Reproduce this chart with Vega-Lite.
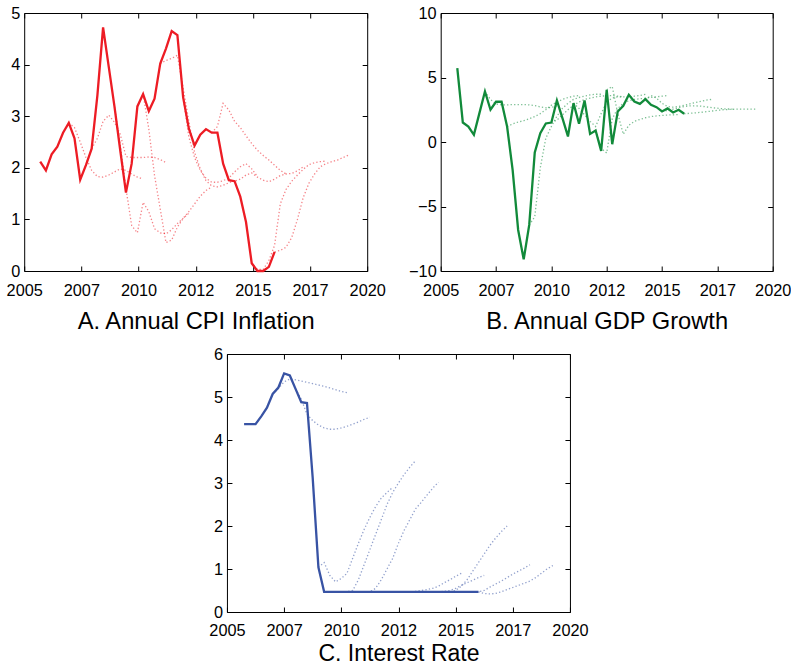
{
"$schema": "https://vega.github.io/schema/vega-lite/v6.json",
"padding": {"left": 6, "top": 5, "right": 0, "bottom": 0},
"background": "white",
"config": {
  "font": "Liberation Sans",
  "view": {"stroke": null},
  "axis": {"domainColor": "#000", "domainWidth": 1, "tickColor": "#000", "tickWidth": 1, "tickSize": -5, "labelColor": "#000", "labelFontSize": 16.3, "labelFont": "Liberation Sans", "titleFont": "Liberation Sans", "titleFontSize": 23.7, "titleFontWeight": "normal", "titleColor": "#000", "grid": false, "labelFlush": false}
},
"datasets": {
"A": [
{"s":"o","x":2005.7,"y":2.12},{"s":"o","x":2005.95,"y":1.95},{"s":"o","x":2006.2,"y":2.26},{"s":"o","x":2006.45,"y":2.41},{"s":"o","x":2006.7,"y":2.68},{"s":"o","x":2006.95,"y":2.87},{"s":"o","x":2007.2,"y":2.57},{"s":"o","x":2007.45,"y":1.77},{"s":"o","x":2007.7,"y":2.05},{"s":"o","x":2007.95,"y":2.37},{"s":"o","x":2008.2,"y":3.4},{"s":"o","x":2008.45,"y":4.72},{"s":"o","x":2008.7,"y":3.95},{"s":"o","x":2008.95,"y":3.18},{"s":"o","x":2009.2,"y":2.34},{"s":"o","x":2009.45,"y":1.52},{"s":"o","x":2009.7,"y":2.08},{"s":"o","x":2009.95,"y":3.19},{"s":"o","x":2010.2,"y":3.43},{"s":"o","x":2010.45,"y":3.1},{"s":"o","x":2010.7,"y":3.34},{"s":"o","x":2010.95,"y":4.02},{"s":"o","x":2011.2,"y":4.31},{"s":"o","x":2011.45,"y":4.65},{"s":"o","x":2011.7,"y":4.57},{"s":"o","x":2011.95,"y":3.37},{"s":"o","x":2012.2,"y":2.76},{"s":"o","x":2012.45,"y":2.43},{"s":"o","x":2012.7,"y":2.64},{"s":"o","x":2012.95,"y":2.75},{"s":"o","x":2013.2,"y":2.68},{"s":"o","x":2013.45,"y":2.68},{"s":"o","x":2013.7,"y":2.08},{"s":"o","x":2013.95,"y":1.76},{"s":"o","x":2014.2,"y":1.74},{"s":"o","x":2014.45,"y":1.44},{"s":"o","x":2014.7,"y":0.95},{"s":"o","x":2014.95,"y":0.15},{"s":"o","x":2015.2,"y":0.0},{"s":"o","x":2015.45,"y":0.0},{"s":"o","x":2015.7,"y":0.08},{"s":"o","x":2015.95,"y":0.37},
{"s":"f1","x":2006.95,"y":2.87},{"s":"f1","x":2007.2,"y":2.78},{"s":"f1","x":2007.45,"y":2.5},{"s":"f1","x":2007.7,"y":2.2},{"s":"f1","x":2007.95,"y":1.95},{"s":"f1","x":2008.2,"y":1.83},{"s":"f1","x":2008.45,"y":1.82},{"s":"f1","x":2008.7,"y":1.86},{"s":"f1","x":2008.95,"y":1.92},{"s":"f1","x":2009.2,"y":1.98},{"s":"f1","x":2009.45,"y":1.95},{"s":"f1","x":2009.7,"y":1.88},{"s":"f1","x":2009.95,"y":1.82},{"s":"f1","x":2010.2,"y":1.78},
{"s":"f2","x":2007.95,"y":2.37},{"s":"f2","x":2008.2,"y":2.57},{"s":"f2","x":2008.45,"y":2.9},{"s":"f2","x":2008.7,"y":3.02},{"s":"f2","x":2008.95,"y":2.88},{"s":"f2","x":2009.2,"y":2.65},{"s":"f2","x":2009.45,"y":2.22},{"s":"f2","x":2009.7,"y":2.2},{"s":"f2","x":2009.95,"y":2.2},{"s":"f2","x":2010.2,"y":2.2},{"s":"f2","x":2010.45,"y":2.21},{"s":"f2","x":2010.7,"y":2.2},{"s":"f2","x":2010.95,"y":2.16},{"s":"f2","x":2011.2,"y":2.1},
{"s":"f3","x":2008.95,"y":3.18},{"s":"f3","x":2009.2,"y":2.45},{"s":"f3","x":2009.45,"y":1.6},{"s":"f3","x":2009.7,"y":0.88},{"s":"f3","x":2009.95,"y":0.74},{"s":"f3","x":2010.2,"y":1.33},{"s":"f3","x":2010.45,"y":1.15},{"s":"f3","x":2010.7,"y":0.82},{"s":"f3","x":2010.95,"y":0.74},{"s":"f3","x":2011.2,"y":0.72},{"s":"f3","x":2011.45,"y":0.8},{"s":"f3","x":2011.7,"y":0.92},{"s":"f3","x":2011.95,"y":1.02},{"s":"f3","x":2012.2,"y":1.12},
{"s":"f4","x":2009.95,"y":3.19},{"s":"f4","x":2010.2,"y":3.43},{"s":"f4","x":2010.45,"y":2.75},{"s":"f4","x":2010.7,"y":1.85},{"s":"f4","x":2010.95,"y":1.2},{"s":"f4","x":2011.2,"y":0.55},{"s":"f4","x":2011.45,"y":0.6},{"s":"f4","x":2011.7,"y":0.85},{"s":"f4","x":2011.95,"y":1.02},{"s":"f4","x":2012.2,"y":1.15},{"s":"f4","x":2012.45,"y":1.3},{"s":"f4","x":2012.7,"y":1.45},{"s":"f4","x":2012.95,"y":1.56},{"s":"f4","x":2013.2,"y":1.63},
{"s":"f5","x":2010.95,"y":4.02},{"s":"f5","x":2011.2,"y":4.08},{"s":"f5","x":2011.45,"y":4.12},{"s":"f5","x":2011.7,"y":4.18},{"s":"f5","x":2011.95,"y":3.55},{"s":"f5","x":2012.2,"y":2.9},{"s":"f5","x":2012.45,"y":2.3},{"s":"f5","x":2012.7,"y":1.98},{"s":"f5","x":2012.95,"y":1.75},{"s":"f5","x":2013.2,"y":1.65},{"s":"f5","x":2013.45,"y":1.63},{"s":"f5","x":2013.7,"y":1.66},{"s":"f5","x":2013.95,"y":1.71},{"s":"f5","x":2014.2,"y":1.75},
{"s":"f6","x":2011.95,"y":3.37},{"s":"f6","x":2012.2,"y":2.6},{"s":"f6","x":2012.45,"y":2.2},{"s":"f6","x":2012.7,"y":1.95},{"s":"f6","x":2012.95,"y":1.8},{"s":"f6","x":2013.2,"y":1.72},{"s":"f6","x":2013.45,"y":1.72},{"s":"f6","x":2013.7,"y":1.75},{"s":"f6","x":2013.95,"y":1.8},{"s":"f6","x":2014.2,"y":1.92},{"s":"f6","x":2014.45,"y":2.02},{"s":"f6","x":2014.7,"y":2.08},{"s":"f6","x":2014.95,"y":1.98},{"s":"f6","x":2015.2,"y":1.83},
{"s":"f7","x":2013.2,"y":2.68},{"s":"f7","x":2013.45,"y":2.8},{"s":"f7","x":2013.7,"y":3.25},{"s":"f7","x":2013.95,"y":3.12},{"s":"f7","x":2014.2,"y":2.9},{"s":"f7","x":2014.45,"y":2.78},{"s":"f7","x":2014.7,"y":2.62},{"s":"f7","x":2014.95,"y":2.47},{"s":"f7","x":2015.2,"y":2.34},{"s":"f7","x":2015.45,"y":2.24},{"s":"f7","x":2015.7,"y":2.15},{"s":"f7","x":2015.95,"y":2.05},{"s":"f7","x":2016.2,"y":1.95},{"s":"f7","x":2016.45,"y":1.88},
{"s":"f8","x":2013.95,"y":1.76},{"s":"f8","x":2014.2,"y":1.74},{"s":"f8","x":2014.45,"y":1.78},{"s":"f8","x":2014.7,"y":1.86},{"s":"f8","x":2014.95,"y":1.9},{"s":"f8","x":2015.2,"y":1.82},{"s":"f8","x":2015.45,"y":1.76},{"s":"f8","x":2015.7,"y":1.73},{"s":"f8","x":2015.95,"y":1.78},{"s":"f8","x":2016.2,"y":1.85},{"s":"f8","x":2016.45,"y":1.88},{"s":"f8","x":2016.7,"y":1.89},{"s":"f8","x":2016.95,"y":1.94},{"s":"f8","x":2017.2,"y":2.02},
{"s":"f9","x":2014.95,"y":0.15},{"s":"f9","x":2015.2,"y":0.03},{"s":"f9","x":2015.45,"y":0.03},{"s":"f9","x":2015.7,"y":0.2},{"s":"f9","x":2015.95,"y":0.5},{"s":"f9","x":2016.2,"y":1.3},{"s":"f9","x":2016.45,"y":1.58},{"s":"f9","x":2016.7,"y":1.74},{"s":"f9","x":2016.95,"y":1.86},{"s":"f9","x":2017.2,"y":1.97},{"s":"f9","x":2017.45,"y":2.06},{"s":"f9","x":2017.7,"y":2.1},{"s":"f9","x":2017.95,"y":2.12},{"s":"f9","x":2018.2,"y":2.13},
{"s":"f10","x":2015.95,"y":0.37},{"s":"f10","x":2016.2,"y":0.4},{"s":"f10","x":2016.45,"y":0.46},{"s":"f10","x":2016.7,"y":0.65},{"s":"f10","x":2016.95,"y":1.0},{"s":"f10","x":2017.2,"y":1.42},{"s":"f10","x":2017.45,"y":1.7},{"s":"f10","x":2017.7,"y":1.88},{"s":"f10","x":2017.95,"y":2.02},{"s":"f10","x":2018.2,"y":2.08},{"s":"f10","x":2018.45,"y":2.12},{"s":"f10","x":2018.7,"y":2.15},{"s":"f10","x":2018.95,"y":2.2},{"s":"f10","x":2019.2,"y":2.25}
],
"B": [
{"s":"o","x":2005.75,"y":5.73},{"s":"o","x":2006.0,"y":1.51},{"s":"o","x":2006.25,"y":1.2},{"s":"o","x":2006.5,"y":0.56},{"s":"o","x":2006.75,"y":2.24},{"s":"o","x":2007.0,"y":3.92},{"s":"o","x":2007.25,"y":2.5},{"s":"o","x":2007.5,"y":3.12},{"s":"o","x":2007.75,"y":3.12},{"s":"o","x":2008.0,"y":1.2},{"s":"o","x":2008.25,"y":-2.16},{"s":"o","x":2008.5,"y":-6.82},{"s":"o","x":2008.75,"y":-9.1},{"s":"o","x":2009.0,"y":-6.43},{"s":"o","x":2009.25,"y":-0.81},{"s":"o","x":2009.5,"y":0.69},{"s":"o","x":2009.75,"y":1.44},{"s":"o","x":2010.0,"y":1.51},{"s":"o","x":2010.25,"y":3.22},{"s":"o","x":2010.5,"y":1.85},{"s":"o","x":2010.75,"y":0.43},{"s":"o","x":2011.0,"y":3.01},{"s":"o","x":2011.25,"y":1.41},{"s":"o","x":2011.5,"y":3.22},{"s":"o","x":2011.75,"y":0.63},{"s":"o","x":2012.0,"y":0.89},{"s":"o","x":2012.25,"y":-0.69},{"s":"o","x":2012.5,"y":4.05},{"s":"o","x":2012.75,"y":-0.17},{"s":"o","x":2013.0,"y":2.37},{"s":"o","x":2013.25,"y":2.81},{"s":"o","x":2013.5,"y":3.66},{"s":"o","x":2013.75,"y":3.14},{"s":"o","x":2014.0,"y":2.96},{"s":"o","x":2014.25,"y":3.32},{"s":"o","x":2014.5,"y":2.88},{"s":"o","x":2014.75,"y":2.7},{"s":"o","x":2015.0,"y":2.37},{"s":"o","x":2015.25,"y":2.6},{"s":"o","x":2015.5,"y":2.29},{"s":"o","x":2015.75,"y":2.5},{"s":"o","x":2016.0,"y":2.19},
{"s":"f1","x":2007.0,"y":3.92},{"s":"f1","x":2007.25,"y":3.3},{"s":"f1","x":2007.5,"y":2.95},{"s":"f1","x":2007.75,"y":2.88},{"s":"f1","x":2008.0,"y":2.88},{"s":"f1","x":2008.25,"y":2.9},{"s":"f1","x":2008.5,"y":2.9},{"s":"f1","x":2008.75,"y":2.9},{"s":"f1","x":2009.0,"y":2.88},{"s":"f1","x":2009.25,"y":2.82},{"s":"f1","x":2009.5,"y":2.72},{"s":"f1","x":2009.75,"y":2.65},{"s":"f1","x":2010.0,"y":2.68},{"s":"f1","x":2010.25,"y":2.8},
{"s":"f2","x":2008.0,"y":1.2},{"s":"f2","x":2008.25,"y":1.4},{"s":"f2","x":2008.5,"y":1.55},{"s":"f2","x":2008.75,"y":1.65},{"s":"f2","x":2009.0,"y":1.8},{"s":"f2","x":2009.25,"y":1.98},{"s":"f2","x":2009.5,"y":2.2},{"s":"f2","x":2009.75,"y":2.5},{"s":"f2","x":2010.0,"y":2.85},{"s":"f2","x":2010.25,"y":3.1},{"s":"f2","x":2010.5,"y":3.3},{"s":"f2","x":2010.75,"y":3.45},{"s":"f2","x":2011.0,"y":3.55},{"s":"f2","x":2011.25,"y":3.6},
{"s":"f3","x":2009.0,"y":-6.43},{"s":"f3","x":2009.25,"y":-5.8},{"s":"f3","x":2009.5,"y":-2.0},{"s":"f3","x":2009.75,"y":0.3},{"s":"f3","x":2010.0,"y":1.2},{"s":"f3","x":2010.25,"y":2.0},{"s":"f3","x":2010.5,"y":2.6},{"s":"f3","x":2010.75,"y":3.0},{"s":"f3","x":2011.0,"y":3.3},{"s":"f3","x":2011.25,"y":3.45},{"s":"f3","x":2011.5,"y":3.55},{"s":"f3","x":2011.75,"y":3.65},{"s":"f3","x":2012.0,"y":3.7},{"s":"f3","x":2012.25,"y":3.7},
{"s":"f4","x":2010.0,"y":1.51},{"s":"f4","x":2010.25,"y":1.7},{"s":"f4","x":2010.5,"y":2.1},{"s":"f4","x":2010.75,"y":2.5},{"s":"f4","x":2011.0,"y":2.85},{"s":"f4","x":2011.25,"y":3.1},{"s":"f4","x":2011.5,"y":3.3},{"s":"f4","x":2011.75,"y":3.4},{"s":"f4","x":2012.0,"y":3.5},{"s":"f4","x":2012.25,"y":3.55},{"s":"f4","x":2012.5,"y":3.6},{"s":"f4","x":2012.75,"y":3.6},{"s":"f4","x":2013.0,"y":3.55},{"s":"f4","x":2013.25,"y":3.5},
{"s":"f5","x":2011.0,"y":3.01},{"s":"f5","x":2011.25,"y":2.6},{"s":"f5","x":2011.5,"y":2.1},{"s":"f5","x":2011.75,"y":1.6},{"s":"f5","x":2012.0,"y":1.2},{"s":"f5","x":2012.25,"y":2.2},{"s":"f5","x":2012.5,"y":3.1},{"s":"f5","x":2012.75,"y":3.4},{"s":"f5","x":2013.0,"y":3.5},{"s":"f5","x":2013.25,"y":3.5},{"s":"f5","x":2013.5,"y":3.5},{"s":"f5","x":2013.75,"y":3.55},{"s":"f5","x":2014.0,"y":3.6},{"s":"f5","x":2014.25,"y":3.7},
{"s":"f6","x":2012.0,"y":0.89},{"s":"f6","x":2012.25,"y":-0.5},{"s":"f6","x":2012.5,"y":-0.85},{"s":"f6","x":2012.75,"y":1.8},{"s":"f6","x":2013.0,"y":2.6},{"s":"f6","x":2013.25,"y":3.0},{"s":"f6","x":2013.5,"y":3.2},{"s":"f6","x":2013.75,"y":3.3},{"s":"f6","x":2014.0,"y":3.35},{"s":"f6","x":2014.25,"y":3.4},{"s":"f6","x":2014.5,"y":3.45},{"s":"f6","x":2014.75,"y":3.5},{"s":"f6","x":2015.0,"y":3.55},{"s":"f6","x":2015.25,"y":3.6},
{"s":"f7","x":2012.5,"y":4.05},{"s":"f7","x":2012.75,"y":4.3},{"s":"f7","x":2013.0,"y":2.2},{"s":"f7","x":2013.25,"y":0.6},{"s":"f7","x":2013.5,"y":1.3},{"s":"f7","x":2013.75,"y":1.6},{"s":"f7","x":2014.0,"y":1.75},{"s":"f7","x":2014.25,"y":1.88},{"s":"f7","x":2014.5,"y":1.97},{"s":"f7","x":2014.75,"y":2.02},{"s":"f7","x":2015.0,"y":2.06},{"s":"f7","x":2015.25,"y":2.09},{"s":"f7","x":2015.5,"y":2.11},{"s":"f7","x":2015.75,"y":2.13},
{"s":"f8","x":2014.0,"y":2.96},{"s":"f8","x":2014.25,"y":3.3},{"s":"f8","x":2014.5,"y":3.6},{"s":"f8","x":2014.75,"y":3.4},{"s":"f8","x":2015.0,"y":3.0},{"s":"f8","x":2015.25,"y":2.75},{"s":"f8","x":2015.5,"y":2.7},{"s":"f8","x":2015.75,"y":2.75},{"s":"f8","x":2016.0,"y":2.85},{"s":"f8","x":2016.25,"y":2.95},{"s":"f8","x":2016.5,"y":3.05},{"s":"f8","x":2016.75,"y":3.15},{"s":"f8","x":2017.0,"y":3.25},{"s":"f8","x":2017.25,"y":3.3},
{"s":"f9","x":2015.0,"y":2.37},{"s":"f9","x":2015.25,"y":2.45},{"s":"f9","x":2015.5,"y":2.55},{"s":"f9","x":2015.75,"y":2.65},{"s":"f9","x":2016.0,"y":2.75},{"s":"f9","x":2016.25,"y":2.8},{"s":"f9","x":2016.5,"y":2.8},{"s":"f9","x":2016.75,"y":2.78},{"s":"f9","x":2017.0,"y":2.72},{"s":"f9","x":2017.25,"y":2.66},{"s":"f9","x":2017.5,"y":2.62},{"s":"f9","x":2017.75,"y":2.58},{"s":"f9","x":2018.0,"y":2.56},{"s":"f9","x":2018.25,"y":2.55},
{"s":"f10","x":2016.0,"y":2.19},{"s":"f10","x":2016.25,"y":2.22},{"s":"f10","x":2016.5,"y":2.26},{"s":"f10","x":2016.75,"y":2.3},{"s":"f10","x":2017.0,"y":2.35},{"s":"f10","x":2017.25,"y":2.4},{"s":"f10","x":2017.5,"y":2.45},{"s":"f10","x":2017.75,"y":2.5},{"s":"f10","x":2018.0,"y":2.52},{"s":"f10","x":2018.25,"y":2.54},{"s":"f10","x":2018.5,"y":2.55},{"s":"f10","x":2018.75,"y":2.55},{"s":"f10","x":2019.0,"y":2.55},{"s":"f10","x":2019.25,"y":2.55}
],
"C": [
{"s":"o","x":2005.75,"y":4.37},{"s":"o","x":2006.0,"y":4.37},{"s":"o","x":2006.25,"y":4.37},{"s":"o","x":2006.5,"y":4.55},{"s":"o","x":2006.75,"y":4.75},{"s":"o","x":2007.0,"y":5.07},{"s":"o","x":2007.25,"y":5.22},{"s":"o","x":2007.5,"y":5.55},{"s":"o","x":2007.75,"y":5.5},{"s":"o","x":2008.0,"y":5.19},{"s":"o","x":2008.25,"y":4.88},{"s":"o","x":2008.5,"y":4.86},{"s":"o","x":2008.75,"y":3.12},{"s":"o","x":2009.0,"y":1.04},{"s":"o","x":2009.25,"y":0.47},{"s":"o","x":2009.5,"y":0.47},{"s":"o","x":2009.75,"y":0.47},{"s":"o","x":2010.0,"y":0.47},{"s":"o","x":2010.25,"y":0.47},{"s":"o","x":2010.5,"y":0.47},{"s":"o","x":2010.75,"y":0.47},{"s":"o","x":2011.0,"y":0.47},{"s":"o","x":2011.25,"y":0.47},{"s":"o","x":2011.5,"y":0.47},{"s":"o","x":2011.75,"y":0.47},{"s":"o","x":2012.0,"y":0.47},{"s":"o","x":2012.25,"y":0.47},{"s":"o","x":2012.5,"y":0.47},{"s":"o","x":2012.75,"y":0.47},{"s":"o","x":2013.0,"y":0.47},{"s":"o","x":2013.25,"y":0.47},{"s":"o","x":2013.5,"y":0.47},{"s":"o","x":2013.75,"y":0.47},{"s":"o","x":2014.0,"y":0.47},{"s":"o","x":2014.25,"y":0.47},{"s":"o","x":2014.5,"y":0.47},{"s":"o","x":2014.75,"y":0.47},{"s":"o","x":2015.0,"y":0.47},{"s":"o","x":2015.25,"y":0.47},{"s":"o","x":2015.5,"y":0.47},{"s":"o","x":2015.75,"y":0.47},{"s":"o","x":2016.0,"y":0.47},
{"s":"f1","x":2007.0,"y":5.07},{"s":"f1","x":2007.25,"y":5.2},{"s":"f1","x":2007.5,"y":5.35},{"s":"f1","x":2007.75,"y":5.42},{"s":"f1","x":2008.0,"y":5.4},{"s":"f1","x":2008.25,"y":5.37},{"s":"f1","x":2008.5,"y":5.34},{"s":"f1","x":2008.75,"y":5.31},{"s":"f1","x":2009.0,"y":5.28},{"s":"f1","x":2009.25,"y":5.25},{"s":"f1","x":2009.5,"y":5.21},{"s":"f1","x":2009.75,"y":5.17},{"s":"f1","x":2010.0,"y":5.13},{"s":"f1","x":2010.25,"y":5.1},
{"s":"f2","x":2008.0,"y":5.19},{"s":"f2","x":2008.25,"y":4.95},{"s":"f2","x":2008.5,"y":4.6},{"s":"f2","x":2008.75,"y":4.45},{"s":"f2","x":2009.0,"y":4.35},{"s":"f2","x":2009.25,"y":4.28},{"s":"f2","x":2009.5,"y":4.25},{"s":"f2","x":2009.75,"y":4.25},{"s":"f2","x":2010.0,"y":4.28},{"s":"f2","x":2010.25,"y":4.32},{"s":"f2","x":2010.5,"y":4.37},{"s":"f2","x":2010.75,"y":4.42},{"s":"f2","x":2011.0,"y":4.48},{"s":"f2","x":2011.25,"y":4.53},
{"s":"f3","x":2009.0,"y":1.04},{"s":"f3","x":2009.25,"y":1.15},{"s":"f3","x":2009.5,"y":0.85},{"s":"f3","x":2009.75,"y":0.7},{"s":"f3","x":2010.0,"y":0.78},{"s":"f3","x":2010.25,"y":0.9},{"s":"f3","x":2010.5,"y":1.25},{"s":"f3","x":2010.75,"y":1.6},{"s":"f3","x":2011.0,"y":1.92},{"s":"f3","x":2011.25,"y":2.2},{"s":"f3","x":2011.5,"y":2.45},{"s":"f3","x":2011.75,"y":2.65},{"s":"f3","x":2012.0,"y":2.78},{"s":"f3","x":2012.25,"y":2.9},
{"s":"f4","x":2010.0,"y":0.47},{"s":"f4","x":2010.25,"y":0.47},{"s":"f4","x":2010.5,"y":0.5},{"s":"f4","x":2010.75,"y":0.75},{"s":"f4","x":2011.0,"y":1.1},{"s":"f4","x":2011.25,"y":1.45},{"s":"f4","x":2011.5,"y":1.8},{"s":"f4","x":2011.75,"y":2.15},{"s":"f4","x":2012.0,"y":2.5},{"s":"f4","x":2012.25,"y":2.78},{"s":"f4","x":2012.5,"y":3.0},{"s":"f4","x":2012.75,"y":3.2},{"s":"f4","x":2013.0,"y":3.37},{"s":"f4","x":2013.25,"y":3.52},
{"s":"f5","x":2011.0,"y":0.47},{"s":"f5","x":2011.25,"y":0.47},{"s":"f5","x":2011.5,"y":0.55},{"s":"f5","x":2011.75,"y":0.75},{"s":"f5","x":2012.0,"y":1.0},{"s":"f5","x":2012.25,"y":1.25},{"s":"f5","x":2012.5,"y":1.6},{"s":"f5","x":2012.75,"y":1.9},{"s":"f5","x":2013.0,"y":2.15},{"s":"f5","x":2013.25,"y":2.4},{"s":"f5","x":2013.5,"y":2.55},{"s":"f5","x":2013.75,"y":2.72},{"s":"f5","x":2014.0,"y":2.88},{"s":"f5","x":2014.25,"y":3.02},
{"s":"f6","x":2012.0,"y":0.47},{"s":"f6","x":2012.25,"y":0.47},{"s":"f6","x":2012.5,"y":0.47},{"s":"f6","x":2012.75,"y":0.47},{"s":"f6","x":2013.0,"y":0.47},{"s":"f6","x":2013.25,"y":0.48},{"s":"f6","x":2013.5,"y":0.5},{"s":"f6","x":2013.75,"y":0.52},{"s":"f6","x":2014.0,"y":0.55},{"s":"f6","x":2014.25,"y":0.6},{"s":"f6","x":2014.5,"y":0.68},{"s":"f6","x":2014.75,"y":0.75},{"s":"f6","x":2015.0,"y":0.83},{"s":"f6","x":2015.25,"y":0.9},
{"s":"f7","x":2013.0,"y":0.47},{"s":"f7","x":2013.25,"y":0.47},{"s":"f7","x":2013.5,"y":0.47},{"s":"f7","x":2013.75,"y":0.47},{"s":"f7","x":2014.0,"y":0.47},{"s":"f7","x":2014.25,"y":0.47},{"s":"f7","x":2014.5,"y":0.48},{"s":"f7","x":2014.75,"y":0.5},{"s":"f7","x":2015.0,"y":0.55},{"s":"f7","x":2015.25,"y":0.62},{"s":"f7","x":2015.5,"y":0.68},{"s":"f7","x":2015.75,"y":0.74},{"s":"f7","x":2016.0,"y":0.8},{"s":"f7","x":2016.25,"y":0.85},
{"s":"f8","x":2014.0,"y":0.47},{"s":"f8","x":2014.25,"y":0.47},{"s":"f8","x":2014.5,"y":0.47},{"s":"f8","x":2014.75,"y":0.47},{"s":"f8","x":2015.0,"y":0.5},{"s":"f8","x":2015.25,"y":0.6},{"s":"f8","x":2015.5,"y":0.75},{"s":"f8","x":2015.75,"y":0.95},{"s":"f8","x":2016.0,"y":1.15},{"s":"f8","x":2016.25,"y":1.35},{"s":"f8","x":2016.5,"y":1.55},{"s":"f8","x":2016.75,"y":1.72},{"s":"f8","x":2017.0,"y":1.87},{"s":"f8","x":2017.25,"y":2.0},
{"s":"f9","x":2015.0,"y":0.47},{"s":"f9","x":2015.25,"y":0.47},{"s":"f9","x":2015.5,"y":0.47},{"s":"f9","x":2015.75,"y":0.47},{"s":"f9","x":2016.0,"y":0.47},{"s":"f9","x":2016.25,"y":0.5},{"s":"f9","x":2016.5,"y":0.58},{"s":"f9","x":2016.75,"y":0.65},{"s":"f9","x":2017.0,"y":0.72},{"s":"f9","x":2017.25,"y":0.8},{"s":"f9","x":2017.5,"y":0.88},{"s":"f9","x":2017.75,"y":0.95},{"s":"f9","x":2018.0,"y":1.02},{"s":"f9","x":2018.25,"y":1.1},
{"s":"f10","x":2016.0,"y":0.47},{"s":"f10","x":2016.25,"y":0.43},{"s":"f10","x":2016.5,"y":0.42},{"s":"f10","x":2016.75,"y":0.43},{"s":"f10","x":2017.0,"y":0.47},{"s":"f10","x":2017.25,"y":0.52},{"s":"f10","x":2017.5,"y":0.57},{"s":"f10","x":2017.75,"y":0.62},{"s":"f10","x":2018.0,"y":0.67},{"s":"f10","x":2018.25,"y":0.72},{"s":"f10","x":2018.5,"y":0.8},{"s":"f10","x":2018.75,"y":0.9},{"s":"f10","x":2019.0,"y":1.0},{"s":"f10","x":2019.25,"y":1.08}
]
},
"vconcat": [
{
"hconcat": [
{
"width": 343, "height": 258,
"data": {"name": "A"},
"layer": [
{"transform": [{"filter": "datum.s != 'o'"}],
 "mark": {"type": "line", "color": "#ed1c24", "strokeWidth": 1.3, "strokeDash": [1.3, 2.2], "opacity": 0.55},
 "encoding": {
  "x": {"field": "x", "type": "quantitative", "scale": {"domain": [2005, 2020], "nice": false, "zero": false}, "axis": {"orient": "bottom", "values": [2005, 2007.5, 2010, 2012.5, 2015, 2017.5, 2020], "labelExpr": "format(floor(datum.value), 'd')", "title": "A. Annual CPI Inflation", "labelPadding": 16, "titlePadding": 11}},
  "y": {"field": "y", "type": "quantitative", "scale": {"domain": [0, 5], "nice": false}, "axis": {"orient": "left", "values": [0, 1, 2, 3, 4, 5], "title": null, "labelPadding": 9.5}},
  "detail": {"field": "s"}
 }},
{"transform": [{"filter": "datum.s == 'o'"}],
 "mark": {"type": "line", "color": "#ed1c24", "strokeWidth": 2.3},
 "encoding": {
  "x": {"field": "x", "type": "quantitative", "scale": {"domain": [2005, 2020], "nice": false, "zero": false}, "axis": {"orient": "top", "values": [2005, 2007.5, 2010, 2012.5, 2015, 2017.5, 2020], "labels": false, "title": null}},
  "y": {"field": "y", "type": "quantitative", "scale": {"domain": [0, 5], "nice": false}, "axis": {"orient": "right", "values": [0, 1, 2, 3, 4, 5], "labels": false, "title": null}}
 }}
],
"resolve": {"axis": {"x": "independent", "y": "independent"}}
},
{
"width": 332, "height": 258,
"data": {"name": "B"},
"layer": [
{"transform": [{"filter": "datum.s != 'o'"}],
 "mark": {"type": "line", "color": "#118a3a", "strokeWidth": 1.3, "strokeDash": [1.3, 2.2], "opacity": 0.55},
 "encoding": {
  "x": {"field": "x", "type": "quantitative", "scale": {"domain": [2005, 2020], "nice": false, "zero": false}, "axis": {"orient": "bottom", "values": [2005, 2007.5, 2010, 2012.5, 2015, 2017.5, 2020], "labelExpr": "format(floor(datum.value), 'd')", "title": "B. Annual GDP Growth", "labelPadding": 16, "titlePadding": 11}},
  "y": {"field": "y", "type": "quantitative", "scale": {"domain": [-10, 10], "nice": false}, "axis": {"orient": "left", "values": [-10, -5, 0, 5, 10], "title": null, "labelPadding": 9.5}},
  "detail": {"field": "s"}
 }},
{"transform": [{"filter": "datum.s == 'o'"}],
 "mark": {"type": "line", "color": "#118a3a", "strokeWidth": 2.3},
 "encoding": {
  "x": {"field": "x", "type": "quantitative", "scale": {"domain": [2005, 2020], "nice": false, "zero": false}, "axis": {"orient": "top", "values": [2005, 2007.5, 2010, 2012.5, 2015, 2017.5, 2020], "labels": false, "title": null}},
  "y": {"field": "y", "type": "quantitative", "scale": {"domain": [-10, 10], "nice": false}, "axis": {"orient": "right", "values": [-10, -5, 0, 5, 10], "labels": false, "title": null}}
 }}
],
"resolve": {"axis": {"x": "independent", "y": "independent"}}
}
],
"spacing": 21.5
},
{
"width": 343, "height": 258,
"data": {"name": "C"},
"layer": [
{"transform": [{"filter": "datum.s != 'o'"}],
 "mark": {"type": "line", "color": "#3853a4", "strokeWidth": 1.3, "strokeDash": [1.3, 2.2], "opacity": 0.55},
 "encoding": {
  "x": {"field": "x", "type": "quantitative", "scale": {"domain": [2005, 2020], "nice": false, "zero": false}, "axis": {"orient": "bottom", "values": [2005, 2007.5, 2010, 2012.5, 2015, 2017.5, 2020], "labelExpr": "format(floor(datum.value), 'd')", "title": "C. Interest Rate", "labelPadding": 15, "titlePadding": 4, "titleFontSize": 23}},
  "y": {"field": "y", "type": "quantitative", "scale": {"domain": [0, 6], "nice": false}, "axis": {"orient": "left", "values": [0, 1, 2, 3, 4, 5, 6], "title": null, "labelPadding": 9.5}},
  "detail": {"field": "s"}
 }},
{"transform": [{"filter": "datum.s == 'o'"}],
 "mark": {"type": "line", "color": "#3853a4", "strokeWidth": 2.3},
 "encoding": {
  "x": {"field": "x", "type": "quantitative", "scale": {"domain": [2005, 2020], "nice": false, "zero": false}, "axis": {"orient": "top", "values": [2005, 2007.5, 2010, 2012.5, 2015, 2017.5, 2020], "labels": false, "title": null}},
  "y": {"field": "y", "type": "quantitative", "scale": {"domain": [0, 6], "nice": false}, "axis": {"orient": "right", "values": [0, 1, 2, 3, 4, 5, 6], "labels": false, "title": null}}
 }}
],
"resolve": {"axis": {"x": "independent", "y": "independent"}}
}
],
"spacing": 13,
"center": true
}
